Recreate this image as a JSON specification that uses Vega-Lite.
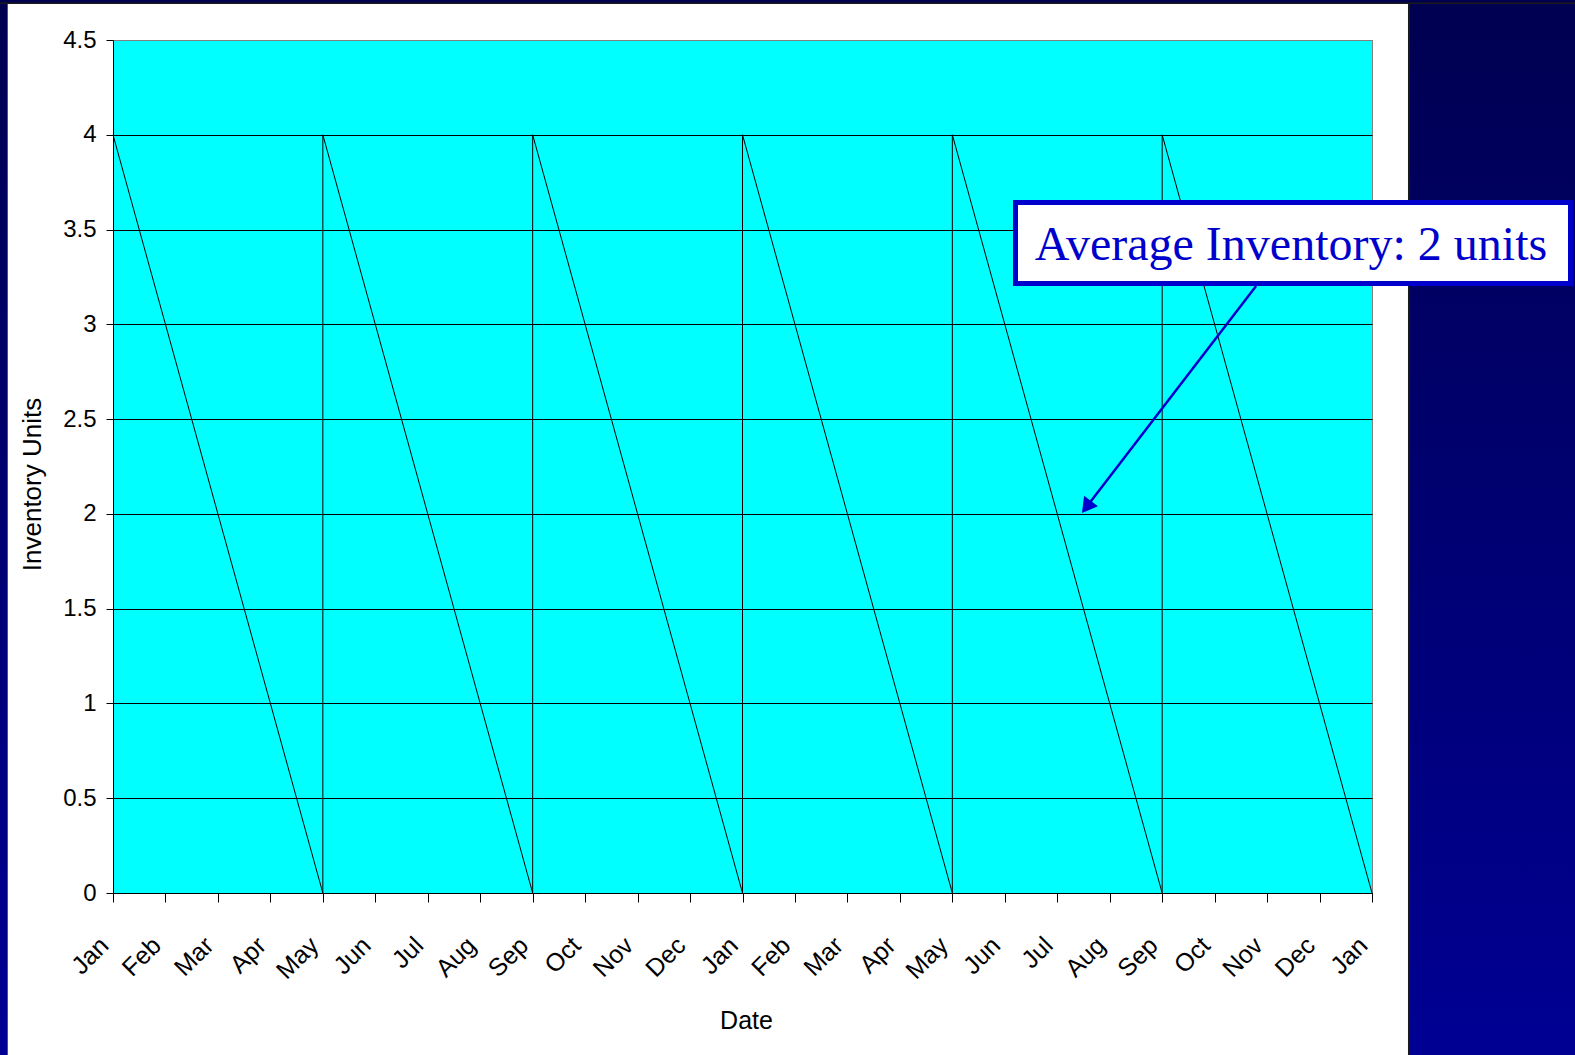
{
  "$schema": "https://vega.github.io/schema/vega-lite/v6.json",
  "autosize": {"type": "none"},
  "width": 1259,
  "height": 853,
  "padding": {"left": 113, "top": 40, "right": 203, "bottom": 162},
  "background": "white",
  "config": {
    "view": {"fill": "#00ffff", "stroke": "#808080", "strokeWidth": 1},
    "font": "Liberation Sans"
  },
  "layer": [
    {
      "data": {"values": [{}]},
      "mark": {"type": "rect", "clip": false, "stroke": "#1a1a1a", "strokeWidth": 2, "color": {"gradient": "linear", "x1": 0, "y1": 0, "x2": 0, "y2": 1, "stops": [{"offset": 0, "color": "#000050"}, {"offset": 1, "color": "#000095"}]}},
      "encoding": {
        "x": {"datum": 24.705, "type": "quantitative"},
        "x2": {"datum": 32},
        "y": {"datum": 4.8, "type": "quantitative"},
        "y2": {"datum": -1}
      }
    },
    {
      "data": {"values": [{}]},
      "mark": {"type": "rect", "clip": false, "stroke": "#555555", "strokeWidth": 1, "color": {"gradient": "linear", "x1": 0, "y1": 0, "x2": 0, "y2": 1, "stops": [{"offset": 0, "color": "#000050"}, {"offset": 1, "color": "#000095"}]}},
      "encoding": {
        "x": {"datum": -3, "type": "quantitative"},
        "x2": {"datum": -2.011},
        "y": {"datum": 4.8, "type": "quantitative"},
        "y2": {"datum": -1}
      }
    },
    {
      "data": {"values": [{}]},
      "mark": {"type": "rect", "clip": false, "color": "#000050", "stroke": "#1a1a1a", "strokeWidth": 1.5},
      "encoding": {
        "x": {"datum": -3, "type": "quantitative"},
        "x2": {"datum": 32},
        "y": {"datum": 4.6935, "type": "quantitative"},
        "y2": {"datum": 4.8}
      }
    },
    {
      "data": {"values": [
        {"seq": 0, "month": 0, "units": 4},
        {"seq": 1, "month": 4, "units": 0},
        {"seq": 2, "month": 4, "units": 4},
        {"seq": 3, "month": 8, "units": 0},
        {"seq": 4, "month": 8, "units": 4},
        {"seq": 5, "month": 12, "units": 0},
        {"seq": 6, "month": 12, "units": 4},
        {"seq": 7, "month": 16, "units": 0},
        {"seq": 8, "month": 16, "units": 4},
        {"seq": 9, "month": 20, "units": 0},
        {"seq": 10, "month": 20, "units": 4},
        {"seq": 11, "month": 24, "units": 0}
      ]},
      "mark": {"type": "line", "color": "black", "strokeWidth": 1},
      "encoding": {
        "x": {
          "field": "month", "type": "quantitative",
          "scale": {"domain": [0, 24], "nice": false, "zero": false},
          "axis": {
            "values": [0,1,2,3,4,5,6,7,8,9,10,11,12,13,14,15,16,17,18,19,20,21,22,23,24],
            "labelExpr": "['Jan','Feb','Mar','Apr','May','Jun','Jul','Aug','Sep','Oct','Nov','Dec'][datum.value % 12]",
            "labelAngle": -45,
            "labelAlign": "right",
            "labelBaseline": "middle",
            "labelFontSize": 25,
            "labelColor": "black",
            "labelPadding": 39,
            "labelOffset": -9,
            "labelFont": "Liberation Sans",
            "labelOverlap": false,
            "grid": false,
            "tickColor": "black",
            "tickSize": 9,
            "domainColor": "black",
            "title": "Date",
            "titleFont": "Liberation Sans",
            "titleFontSize": 25,
            "titleFontWeight": "normal",
            "titleColor": "black",
            "titleX": 633,
            "titleY": 135,
            "titleBaseline": "alphabetic",
            "titleAlign": "center"
          }
        },
        "y": {
          "field": "units", "type": "quantitative",
          "scale": {"domain": [0, 4.5], "nice": false},
          "axis": {
            "values": [0, 0.5, 1, 1.5, 2, 2.5, 3, 3.5, 4, 4.5],
            "format": "~g",
            "labelFontSize": 24,
            "labelColor": "black",
            "labelFont": "Liberation Sans",
            "labelPadding": 10,
            "labelOverlap": false,
            "tickColor": "black",
            "tickSize": 7,
            "domainColor": "black",
            "grid": true,
            "gridColor": {"condition": {"test": "datum.value == 4.5", "value": "#808080"}, "value": "black"},
            "gridOpacity": 1,
            "gridWidth": 1,
            "title": "Inventory Units",
            "titleFont": "Liberation Sans",
            "titleFontSize": 26,
            "titleFontWeight": "normal",
            "titleColor": "black",
            "titleAngle": -90,
            "titleX": -73,
            "titleY": 444,
            "titleBaseline": "alphabetic",
            "titleAlign": "center"
          }
        },
        "order": {"field": "seq", "type": "quantitative"}
      }
    },
    {
      "data": {"values": [{}]},
      "mark": {"type": "rule", "clip": false, "color": "#0000cc", "strokeWidth": 2.5},
      "encoding": {
        "x": {"datum": 21.79, "type": "quantitative"},
        "x2": {"datum": 18.557},
        "y": {"datum": 3.202, "type": "quantitative"},
        "y2": {"datum": 2.036}
      }
    },
    {
      "data": {"values": [{}]},
      "mark": {"type": "point", "shape": "triangle-up", "filled": true, "clip": false, "color": "#0000cc", "size": 300, "opacity": 1, "angle": 217.2},
      "encoding": {
        "x": {"datum": 18.557, "type": "quantitative"},
        "y": {"datum": 2.036, "type": "quantitative"}
      }
    },
    {
      "data": {"values": [{}]},
      "mark": {"type": "rect", "clip": false, "fill": "white", "stroke": "#0000cc", "strokeWidth": 5},
      "encoding": {
        "x": {"datum": 17.204, "type": "quantitative"},
        "x2": {"datum": 27.784},
        "y": {"datum": 3.643, "type": "quantitative"},
        "y2": {"datum": 3.215}
      }
    },
    {
      "data": {"values": [{"label": "Average Inventory: 2 units"}]},
      "mark": {"type": "text", "clip": false, "font": "Liberation Serif", "fontSize": 48, "color": "#0000cc", "align": "center", "baseline": "alphabetic"},
      "encoding": {
        "x": {"datum": 22.456, "type": "quantitative"},
        "y": {"datum": 3.339, "type": "quantitative"},
        "text": {"field": "label"}
      }
    }
  ]
}
